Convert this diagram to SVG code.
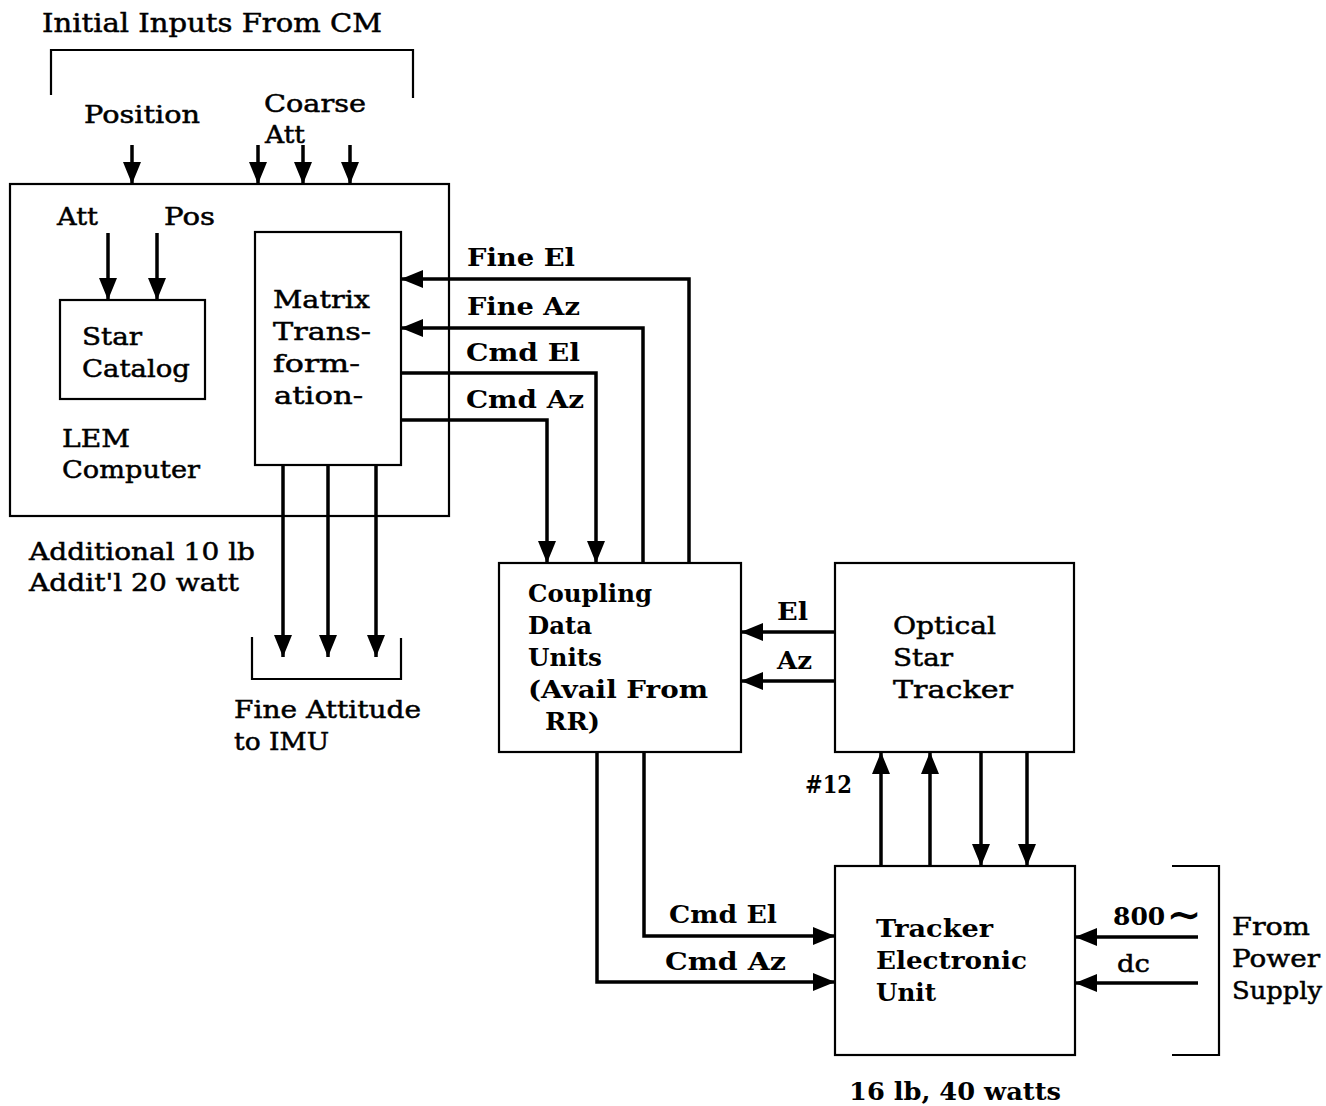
<svg xmlns="http://www.w3.org/2000/svg" width="1326" height="1106" viewBox="0 0 1326 1106">
<defs>
<style>
.t{font-family:"DejaVu Serif","Liberation Serif",serif;font-size:25px;fill:#000;stroke:#000;stroke-width:0.5}
.b{font-weight:bold;stroke-width:0}
.box{fill:none;stroke:#000;stroke-width:2.2}
.br{fill:none;stroke:#000;stroke-width:2.2}
.c{fill:none;stroke:#000;stroke-width:3.5;marker-end:url(#ah)}
</style>
<marker id="ah" markerUnits="userSpaceOnUse" markerWidth="24" markerHeight="20" refX="22" refY="10" orient="auto">
<path d="M0,1 L22,10 L0,19 z" fill="#000"/>
</marker>
</defs>
<rect width="1326" height="1106" fill="#fff"/>

<g id="header">
<text class="t" x="42" y="32" style="font-size:26px" textLength="340" lengthAdjust="spacingAndGlyphs">Initial Inputs From CM</text>
<path class="br" d="M51,95 V50 H413 V98"/>
<text class="t" x="84" y="123" textLength="116" lengthAdjust="spacingAndGlyphs">Position</text>
<text class="t" x="264" y="112" textLength="102" lengthAdjust="spacingAndGlyphs">Coarse</text>
<text class="t" x="265" y="143" textLength="40" lengthAdjust="spacingAndGlyphs">Att</text>
</g>

<g id="lem-computer">
<rect class="box" x="10" y="184" width="439" height="332"/>
<text class="t" x="57" y="225" textLength="41" lengthAdjust="spacingAndGlyphs">Att</text>
<text class="t" x="164" y="225" textLength="51" lengthAdjust="spacingAndGlyphs">Pos</text>
<text class="t" x="62" y="447" textLength="68" lengthAdjust="spacingAndGlyphs">LEM</text>
<text class="t" x="62" y="478" textLength="138" lengthAdjust="spacingAndGlyphs">Computer</text>
</g>

<g id="star-catalog">
<rect class="box" x="60" y="300" width="145" height="99"/>
<text class="t" x="82" y="345" textLength="60" lengthAdjust="spacingAndGlyphs">Star</text>
<text class="t" x="82" y="377" textLength="108" lengthAdjust="spacingAndGlyphs">Catalog</text>
</g>

<g id="matrix-transformation">
<rect class="box" x="255" y="232" width="146" height="233"/>
<text class="t" x="273" y="308" textLength="97" lengthAdjust="spacingAndGlyphs">Matrix</text>
<text class="t" x="273" y="340" textLength="98" lengthAdjust="spacingAndGlyphs">Trans-</text>
<text class="t" x="273" y="372" textLength="87" lengthAdjust="spacingAndGlyphs">form-</text>
<text class="t" x="274" y="404" textLength="89" lengthAdjust="spacingAndGlyphs">ation-</text>
</g>

<g id="lem-notes">
<text class="t" x="29" y="560" textLength="226" lengthAdjust="spacingAndGlyphs">Additional 10 lb</text>
<text class="t" x="29" y="591" textLength="210" lengthAdjust="spacingAndGlyphs">Addit'l 20 watt</text>
</g>

<g id="fine-attitude-imu">
<path class="br" d="M252,637 V679 H401 V638"/>
<text class="t" x="234" y="718" textLength="187" lengthAdjust="spacingAndGlyphs">Fine Attitude</text>
<text class="t" x="234" y="750" textLength="95" lengthAdjust="spacingAndGlyphs">to IMU</text>
</g>

<g id="coupling-data-units">
<rect class="box" x="499" y="563" width="242" height="189"/>
<text class="t b" x="528" y="602" textLength="124" lengthAdjust="spacingAndGlyphs">Coupling</text>
<text class="t b" x="528" y="634" textLength="64" lengthAdjust="spacingAndGlyphs">Data</text>
<text class="t b" x="528" y="666" textLength="74" lengthAdjust="spacingAndGlyphs">Units</text>
<text class="t b" x="528" y="698" textLength="180" lengthAdjust="spacingAndGlyphs">(Avail From</text>
<text class="t b" x="545" y="730" textLength="55" lengthAdjust="spacingAndGlyphs">RR)</text>
</g>

<g id="optical-star-tracker">
<rect class="box" x="835" y="563" width="239" height="189"/>
<text class="t" x="893" y="634" textLength="103" lengthAdjust="spacingAndGlyphs">Optical</text>
<text class="t" x="893" y="666" textLength="60" lengthAdjust="spacingAndGlyphs">Star</text>
<text class="t" x="893" y="698" textLength="120" lengthAdjust="spacingAndGlyphs">Tracker</text>
</g>

<g id="tracker-electronic-unit">
<rect class="box" x="835" y="866" width="240" height="189"/>
<text class="t b" x="876" y="937" textLength="117" lengthAdjust="spacingAndGlyphs">Tracker</text>
<text class="t b" x="876" y="969" textLength="151" lengthAdjust="spacingAndGlyphs">Electronic</text>
<text class="t b" x="876" y="1001" textLength="60" lengthAdjust="spacingAndGlyphs">Unit</text>
<text class="t b" x="849" y="1100" textLength="212" lengthAdjust="spacingAndGlyphs">16 lb,  40 watts</text>
</g>

<g id="power-supply">
<path class="br" d="M1172,866 H1219 V1055 H1172"/>
<text class="t" x="1232" y="935" textLength="78" lengthAdjust="spacingAndGlyphs">From</text>
<text class="t" x="1232" y="967" textLength="88" lengthAdjust="spacingAndGlyphs">Power</text>
<text class="t" x="1232" y="999" textLength="90" lengthAdjust="spacingAndGlyphs">Supply</text>
</g>

<g id="connectors">
<path class="c" d="M132,145 V184"/>
<path class="c" d="M258,145 V184"/>
<path class="c" d="M303,145 V184"/>
<path class="c" d="M350,145 V184"/>
<path class="c" d="M108,233 V300"/>
<path class="c" d="M157,233 V300"/>
<path class="c" d="M689,563 V279 H401"/>
<path class="c" d="M643,563 V328 H401"/>
<path class="c" d="M401,373 H596 V563"/>
<path class="c" d="M401,420 H547 V563"/>
<path class="c" d="M283,465 V657"/>
<path class="c" d="M328,465 V657"/>
<path class="c" d="M376,465 V657"/>
<path class="c" d="M835,632 H741"/>
<path class="c" d="M835,681 H741"/>
<path class="c" d="M644,752 V936 H835"/>
<path class="c" d="M597,752 V982 H835"/>
<path class="c" d="M881,866 V752"/>
<path class="c" d="M930,866 V752"/>
<path class="c" d="M981,752 V866"/>
<path class="c" d="M1027,752 V866"/>
<path class="c" d="M1198,937 H1075"/>
<path class="c" d="M1198,983 H1075"/>
<text class="t b" x="467" y="266" textLength="108" lengthAdjust="spacingAndGlyphs">Fine El</text>
<text class="t b" x="467" y="315" textLength="113" lengthAdjust="spacingAndGlyphs">Fine Az</text>
<text class="t b" x="466" y="361" textLength="114" lengthAdjust="spacingAndGlyphs">Cmd El</text>
<text class="t b" x="466" y="408" textLength="118" lengthAdjust="spacingAndGlyphs">Cmd  Az</text>
<text class="t b" x="777" y="620" textLength="31" lengthAdjust="spacingAndGlyphs">El</text>
<text class="t b" x="777" y="669" textLength="35" lengthAdjust="spacingAndGlyphs">Az</text>
<text class="t b" x="805" y="793" textLength="47" lengthAdjust="spacingAndGlyphs">#12</text>
<text class="t b" x="669" y="923" textLength="108" lengthAdjust="spacingAndGlyphs">Cmd El</text>
<text class="t b" x="665" y="970" textLength="121" lengthAdjust="spacingAndGlyphs">Cmd  Az</text>
<text class="t b" x="1113" y="925">800<tspan dx="1" dy="4" style="font-size:42px">∼</tspan></text>
<text class="t" x="1117" y="972" textLength="33" lengthAdjust="spacingAndGlyphs">dc</text>
</g>
</svg>
